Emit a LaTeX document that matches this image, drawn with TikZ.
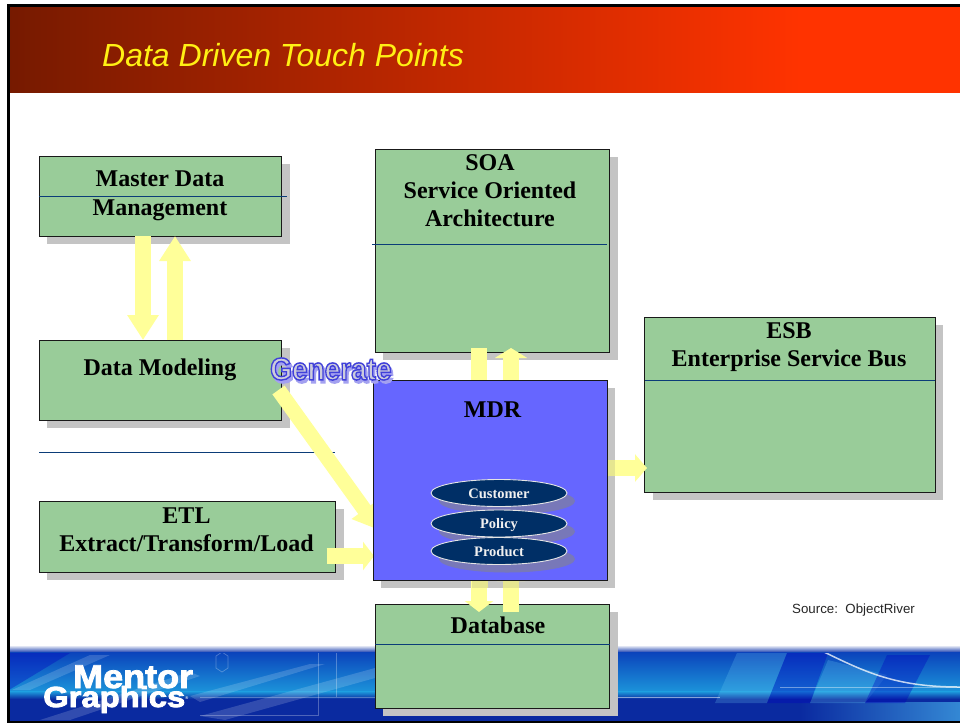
\documentclass[tikz,border=0pt]{standalone}
\usepackage{fontspec}
\setmainfont{Liberation Serif}
\setsansfont{Liberation Sans}
\usetikzlibrary{arrows.meta,calc,shapes.geometric}
\definecolor{boxgreen}{HTML}{99CC99}
\definecolor{shadowgray}{HTML}{C4C4C4}
\definecolor{mdrblue}{HTML}{6666FF}
\definecolor{navy}{HTML}{002F66}
\definecolor{rulenavy}{HTML}{0B3C78}
\definecolor{pale}{HTML}{FFFF99}
\definecolor{paletint}{HTML}{E6E690}
\definecolor{ellshadow}{HTML}{7878B8}
\definecolor{headdark}{HTML}{761A00}
\definecolor{headlight}{HTML}{FF3300}
\definecolor{titleyellow}{HTML}{FFF014}
\definecolor{footdark}{HTML}{0830A8}
\definecolor{foottop}{HTML}{0B45BC}
\definecolor{footmid}{HTML}{1C94DA}
\definecolor{footlow}{HTML}{0A2AA0}
\definecolor{footcorner}{HTML}{3488D4}
\definecolor{genshadow}{HTML}{A4A0F0}
\definecolor{genfill}{HTML}{CCCCDC}
\newcommand{\fsz}[1]{\fontsize{#1}{#1}\selectfont}
\newcommand{\boxat}[5]{%
  \fill[shadowgray] (#2+8,#3+8) rectangle (#4+8,#5+8);
  \node[panel,fill=boxgreen,minimum width=#4pt-#2pt,minimum height=#5pt-#3pt] (#1) at ({(#2+#4)/2},{(#3+#5)/2}) {};
}
\tikzset{
  panel/.style={draw=black!90,line width=1pt,inner sep=0pt,outer sep=0pt},
  boxtext/.style={font=\bfseries\fsz{24},align=center,text=black,inner sep=0pt},
  rulel/.style={rulenavy,line width=0.9pt},
  fat/.style={draw=pale,line width=16pt},
  tipa/.style={-{Triangle[length=25pt,width=30pt]}},
  tipb/.style={-{Triangle[length=11pt,width=28pt]}},
  disc/.style={ellipse,draw=white!90!black,line width=0.9pt,fill=navy,minimum width=136pt,minimum height=27pt,inner sep=0pt,text=white!94!black,text height=10pt,text depth=0pt,font=\bfseries\fsz{14.5}},
  discshadow/.style={ellipse,fill=ellshadow,minimum width=136pt,minimum height=27pt,inner sep=0pt},
  lightp/.style={fill=cyan!55!white,opacity=0.22},
  darkp/.style={fill=blue!75!black,opacity=0.35},
  streak/.style={fill=white,opacity=0.16},
  ghost/.style={draw=white,opacity=0.28,line width=0.7pt}
}
\begin{document}
\begin{tikzpicture}[x=1pt,y=-1pt]
\useasboundingbox (0,0) rectangle (960,723);
\fill[white] (0,0) rectangle (960,723);
% header
\fill[headlight] (9,6) rectangle (960,93);
\begin{scope}
\clip (9,6) rectangle (800,92.6);
\shade[left color=headdark,right color=headlight] (9,0) rectangle (800,99);
\end{scope}
\node[anchor=west,inner sep=0pt,font=\sffamily\itshape\fsz{32},text=titleyellow] (title) at (102,55) {Data Driven Touch Points};
% footer
\shade[top color=white,bottom color=footdark] (9,645) rectangle (960,653);
\shade[top color=foottop,bottom color=footmid] (9,652.8) rectangle (960,692);
\shade[top color=footmid,bottom color=footlow] (9,691.8) rectangle (960,699);
\fill[footlow] (9,698.8) rectangle (960,721);
\shade[left color=footlow,right color=footcorner] (800,702) rectangle (960,721);
\begin{scope}
\clip (9,653) rectangle (960,720);
\fill[lightp] (737,653) -- (787,653) -- (767,703) -- (715,703) -- cycle;
\fill[darkp] (787,653) -- (828,653) -- (810,703) -- (767,703) -- cycle;
\fill[lightp] (828,660) -- (887,675) -- (865,703) -- (810,703) -- cycle;
\fill[darkp] (887,655) -- (930,655) -- (905,703) -- (865,703) -- cycle;
\fill[darkp] (9,653) -- (70,653) -- (9,690) -- cycle;
\fill[streak] (12,690) -- (90,655) -- (110,655) -- (30,690) -- cycle;
\fill[streak] (40,720) -- (190,672) -- (200,676) -- (70,720) -- cycle;
\fill[streak] (190,696) -- (310,664) -- (325,664) -- (200,702) -- cycle;
\fill[streak] (200,716) -- (375,668) -- (375,678) -- (225,720) -- cycle;
\draw[white,opacity=0.75,line width=1.5pt] (820,650) .. controls (865,672) and (895,687) .. (960,687);
\draw[white,opacity=0.5,line width=0.9pt] (610,697) -- (720,697);
\draw[white,opacity=0.4,line width=0.9pt] (780,687) -- (960,687);
\draw[ghost] (318,650) -- (318,715) -- (200,715);
\draw[ghost] (336,650) -- (336,697) -- (375,697);
\draw[ghost] (200,697) -- (336,697);
\draw[ghost] (216,656) -- (216,668) -- (222,672) -- (228,668) -- (228,656) -- (222,652) -- cycle;
\end{scope}
\node[anchor=base west,inner sep=0pt,font=\sffamily\bfseries\fsz{33},text=white] (logoa) at (73,688) {\special{pdf:code 2 Tr 0.8 w 1 1 1 RG}\scalebox{1.09}[1]{Mentor}\special{pdf:code 0 Tr}};
\node[anchor=base west,inner sep=0pt,font=\sffamily\bfseries\fsz{29},text=white] (logob) at (43,707) {\special{pdf:code 2 Tr 0.8 w 1 1 1 RG}\scalebox{1.13}[1]{Graphics}\special{pdf:code 0 Tr}\raisebox{8pt}{\fsz{4}®}};
% frame
\fill[black] (7,4) rectangle (960,6.5);
\fill[black] (7,4) rectangle (9.5,723);
\fill[black] (7,720.7) rectangle (960,723);
% source
\node[anchor=west,inner sep=0pt,font=\sffamily\fsz{13.3},text=black!85] (src) at (792,610) {Source:\ \ ObjectRiver};
% boxes
\boxat{mdm}{39}{156}{281.5}{236}
\boxat{dm}{39}{340}{281.5}{420}
\boxat{soa}{375}{149}{609.5}{352}
\boxat{esb}{644.5}{317}{935}{492}
\boxat{etl}{39}{501}{335.5}{572}
\boxat{db}{375}{604}{609.5}{708}
\fill[shadowgray] (381,388) rectangle (615,588);
% rules
\draw[rulel] (39,196) -- (287,196);
\draw[rulel] (372,244) -- (607,244);
\draw[rulel] (645,380) -- (935,380);
\draw[rulel] (375,644) -- (610,644);
\draw[rulel] (39,452) -- (335,452);
% box texts
\node[boxtext] (mdmt) at (160,195.5) {Master Data\\[4.7pt]Management};
\node[boxtext] (dmt) at (160,369.5) {Data Modeling};
\node[boxtext] (soat) at (490,190.5) {SOA\\[4pt]Service Oriented\\[4pt]Architecture};
\node[boxtext] (esbt) at (789,347) {ESB\\[4pt]Enterprise Service Bus};
\node[boxtext] (etlt) at (186.5,530) {ETL\\[4pt]Extract/Transform/Load};
\node[boxtext] (dbt) at (498,625) {Database};
% MDR anchors for connectors
\coordinate (mdrnw) at (373,380);
\coordinate (mdrsw) at (373,580);
\coordinate (mdrw) at (373,480);
\coordinate (mdre) at (607,480);
% connectors
\draw[fat,tipa] ($(mdm.south west)+(104,0)$) -- ($(dm.north west)+(104,0)$);
\draw[fat,tipa] ($(dm.north west)+(136,0)$) -- ($(mdm.south west)+(136,0)$);
\draw[fat,line width=15pt,tipa] ($(dm.east)+(-3,10)$) -- ($(mdrw)+(6,50)$);
\draw[fat,tipb] ($(etl.south east)+(-9,-16)$) -- ($(mdrw)+(1,76)$);
\draw[fat,tipb] ($(soa.south west)+(104,-4)$) -- ($(mdrnw)+(106,12)$);
\draw[fat,-{Triangle[length=10pt,width=32pt]}] ($(mdrnw)+(138,5)$) -- ($(soa.south west)+(136,-4)$);
\draw[fat,tipb] ($(mdrsw)+(106,-4)$) -- ($(db.north west)+(104,8)$);
\draw[fat,-{Triangle[length=11pt,width=28pt]}] ($(db.north west)+(136,8)$) -- ($(mdrsw)+(138,-10)$);
\draw[fat,-{Triangle[length=12pt,width=27pt]}] ($(mdre)+(-5,-12)$) -- ($(esb.west)+(2.5,63.5)$);
\fill[paletint] (472,580.5) rectangle (488,588);
\fill[paletint] (503,580.5) rectangle (519,588);
\fill[paletint] (607.5,460) rectangle (615,476);
% MDR
\node[panel,fill=mdrblue,minimum width=234pt,minimum height=200pt] (mdr) at (490,480) {};
\node[inner sep=0pt,font=\bfseries\fsz{24},text=black] (mdrt) at (492.5,410) {MDR};
\node[discshadow] (s1) at (507,501) {};
\node[discshadow] (s2) at (507,531.5) {};
\node[discshadow] (s3) at (507,559) {};
\node[disc] (customer) at (499,493) {Customer};
\node[disc] (policy) at (499,523.5) {Policy};
\node[disc] (product) at (499,551) {Product};
% WordArt
\node[anchor=west,inner sep=0pt,font=\sffamily\bfseries\fsz{28},text=genshadow] (gens) at (272,372) {\special{pdf:code 2 Tr 1.4 w 0.64 0.63 0.94 RG}\scalebox{1}[1.12]{Generate}\special{pdf:code 0 Tr}};
\node[anchor=west,inner sep=0pt,font=\sffamily\bfseries\fsz{28},text=genfill] (gen) at (270,369) {\special{pdf:code 2 Tr 1.3 w 0.25 0.25 0.85 RG}\scalebox{1}[1.12]{Generate}\special{pdf:code 0 Tr}};
\end{tikzpicture}
\end{document}
